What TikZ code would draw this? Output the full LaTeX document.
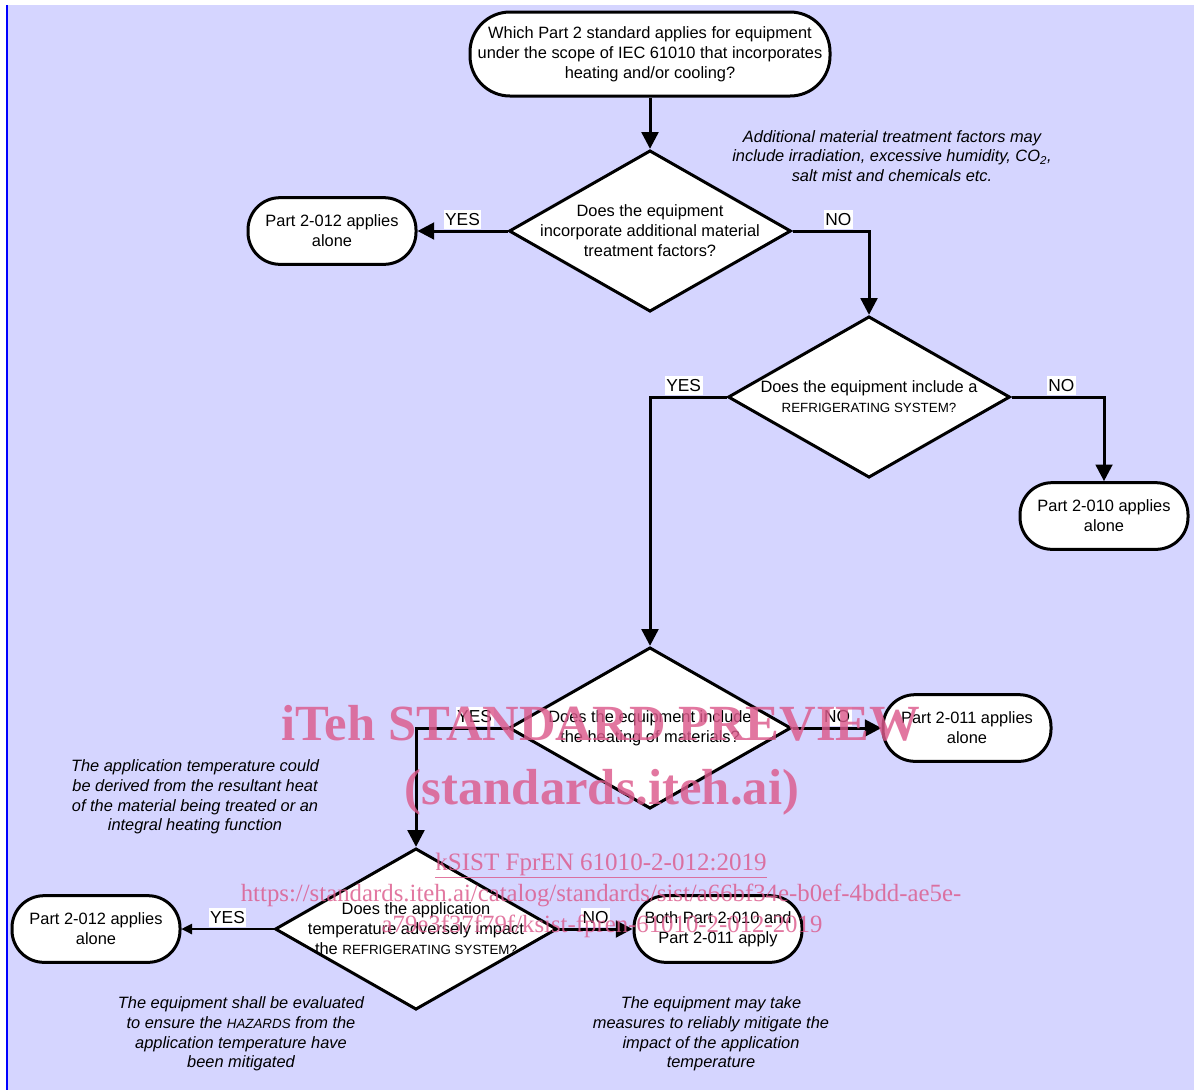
\documentclass[tikz,border=0pt]{standalone}
\usepackage{fontspec}
\setmainfont{Liberation Sans}
\newfontfamily\wmfont{Liberation Serif}
\usetikzlibrary{shapes.geometric,arrows.meta}
\definecolor{flowbg}{RGB}{213,213,255}
\definecolor{wmpink}{RGB}{220,90,140}
\newcommand{\smallcap}[1]{{\fontsize{10}{15}\selectfont #1}}

\begin{document}
\begin{tikzpicture}[x=0.75pt,y=-0.75pt]
\tikzstyle{every node}+=[font=\fontsize{12.3}{15}\selectfont]
\tikzstyle{term}=[draw,line width=2.25pt,fill=white,rounded corners=24pt,minimum width=126pt,minimum height=50pt,align=center,inner sep=2pt]
\tikzstyle{decision}=[draw,line width=2.25pt,fill=white,diamond,minimum width=211.5pt,minimum height=121pt,inner sep=0pt]
\tikzstyle{flow}=[line width=2.25pt,-{Triangle[length=12.5pt,width=12.5pt]}]
\tikzstyle{flowthin}=[line width=0.8pt,-{Triangle[length=8pt,width=8pt]}]
\tikzstyle{answer}=[fill=white,inner xsep=1.2pt,inner ysep=2.6pt,outer sep=1.2pt,anchor=south,font=\fontsize{13}{15}\selectfont]
\tikzstyle{remark}=[align=center,font=\fontsize{12.3}{14.8}\selectfont\itshape]
\tikzstyle{wmark}=[text=wmpink,text opacity=0.82,anchor=base]
\useasboundingbox (0,0) rectangle (1194,1090);
\fill[flowbg] (7,5) rectangle (1194,1090);
\draw[blue,line width=1.5pt] (7,5) -- (7,1090);
\node[term,rounded corners=30pt,minimum width=270pt,minimum height=63pt] (start) at (650,54) {Which Part 2 standard applies for equipment\\under the scope of IEC 61010 that incorporates\\heating and/or cooling?};
\node[decision,label={[align=center]center:{Does the equipment\\incorporate additional material\\treatment factors?}}] (d1) at (650,231) {};
\node[term] (p012a) at (332,231) {Part 2-012 applies\\alone};
\node[decision,label={[align=center]center:{Does the equipment include a\\\smallcap{REFRIGERATING SYSTEM?}}}] (d2) at (869,397) {};
\node[term] (p010) at (1104,516) {Part 2-010 applies\\alone};
\node[decision,label={[align=center]center:{Does the equipment include\\the heating of materials?}}] (d3) at (650,728) {};
\node[term] (p011) at (967,728) {Part 2-011 applies\\alone};
\node[decision,label={[align=center]center:{Does the application\\temperature adversely impact\\the \smallcap{REFRIGERATING SYSTEM?}}}] (d4) at (416,929) {};
\node[term] (p012b) at (96,929) {Part 2-012 applies\\alone};
\node[term] (both) at (718,929) {Both Part 2-010 and\\Part 2-011 apply};
\node[remark] (noteA) at (892,156) {Additional material treatment factors may\\include irradiation, excessive humidity, CO\textsubscript{2},\\salt mist and chemicals etc.};
\node[remark] (noteB) at (195,797) {The application temperature could\\be derived from the resultant heat\\of the material being treated or an\\integral heating function};
\node[remark] (noteC) at (241,1034) {The equipment shall be evaluated\\to ensure the \smallcap{HAZARDS} from the\\application temperature have\\been mitigated};
\node[remark] (noteD) at (711,1034) {The equipment may take\\measures to reliably mitigate the\\impact of the application\\temperature};
\draw[flow] (start) -- (d1);
\draw[flow] (d1.west) -- node[answer]{YES} (p012a.east);
\draw[flow] (d1.east) -| node[answer,pos=0.3]{NO} (d2.north);
\draw[flow] (d2.east) -| node[answer,pos=0.27]{NO} (p010.north);
\draw[flow] (d2.west) -| node[answer,pos=0.28]{YES} (d3.north);
\draw[flow] (d3.east) -- node[answer]{NO} (p011.west);
\draw[flow] (d3.west) -| node[answer,pos=0.18]{YES} (d4.north);
\draw[flowthin] (d4.west) -- node[answer]{YES} (p012b.east);
\draw[flow] (d4.east) -- node[answer]{NO} (both.west);
\node[wmark,font={\wmfont\bfseries\fontsize{38}{40}\selectfont}] (wm1) at (601,740) {iTeh STANDARD PREVIEW};
\node[wmark,font={\wmfont\bfseries\fontsize{38}{40}\selectfont}] (wm2) at (602,804) {(standards.iteh.ai)};
\node[wmark,font={\wmfont\fontsize{18.8}{20}\selectfont}] (wm3) at (601,870) {\underline{kSIST FprEN 61010-2-012:2019}};
\node[wmark,font={\wmfont\fontsize{18.6}{20}\selectfont}] (wm4) at (601,901) {https://standards.iteh.ai/catalog/standards/sist/a66bf34e-b0ef-4bdd-ae5e-};
\node[wmark,font={\wmfont\fontsize{18.6}{20}\selectfont}] (wm5) at (602,932) {a79e3f37f79f/ksist-fpren-61010-2-012-2019};
\end{tikzpicture}
\end{document}
